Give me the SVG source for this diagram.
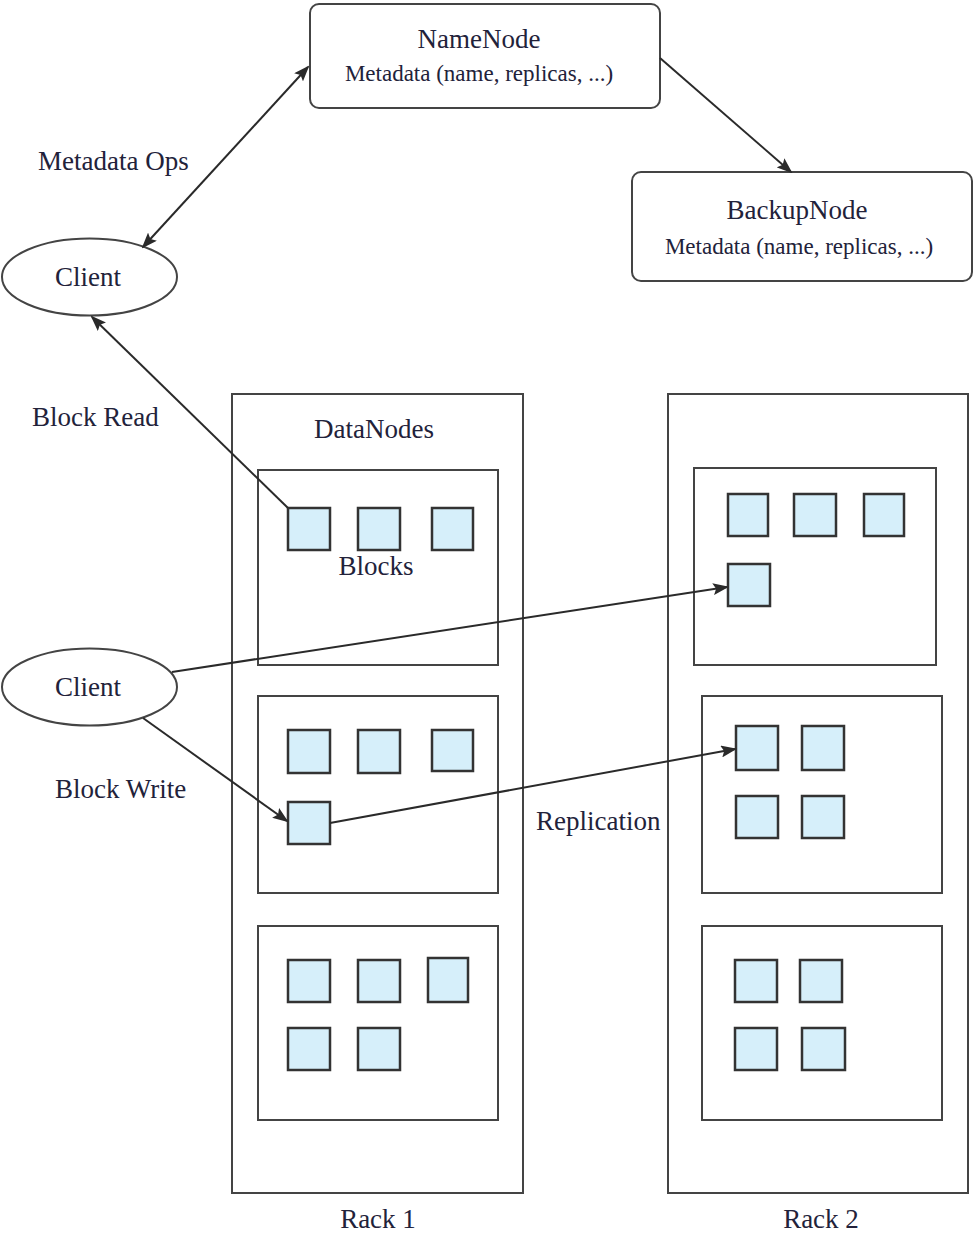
<svg xmlns="http://www.w3.org/2000/svg" width="974" height="1235" viewBox="0 0 974 1235">
<style>
text{font-family:"Liberation Serif","Times New Roman",serif;fill:#22223a}
.lbl{font-size:27px}
.meta{font-size:23px}
.box{fill:#fff;stroke:#444;stroke-width:2}
.rack{fill:none;stroke:#444;stroke-width:2}
.blk{fill:#d6effa;stroke:#333;stroke-width:2.5}
.conn{fill:none;stroke:#2a2a2a;stroke-width:2}
</style>
<defs>
<marker id="ah" markerUnits="userSpaceOnUse" markerWidth="16" markerHeight="12" refX="14" refY="6" orient="auto-start-reverse" viewBox="0 0 16 12">
<path d="M0,0 L16,6 L0,12 L3,6 Z" fill="#2a2a2a"/>
</marker>
</defs>
<rect width="974" height="1235" fill="#fff"/>

<g id="rack1">
<rect class="rack" x="232" y="394" width="291" height="799"/>
<text class="lbl" x="374" y="438" text-anchor="middle">DataNodes</text>
<text class="lbl" x="378" y="1228" text-anchor="middle">Rack 1</text>
</g>
<g id="rack2">
<rect class="rack" x="668" y="394" width="300" height="799"/>
<text class="lbl" x="821" y="1228" text-anchor="middle">Rack 2</text>
</g>

<g id="r1n1">
<rect class="box" x="258" y="470" width="240" height="195"/>
<rect class="blk" x="288" y="508" width="42" height="42"/>
<rect class="blk" x="358" y="508" width="42" height="42"/>
<rect class="blk" x="432" y="508" width="41" height="42"/>
<text class="lbl" x="376" y="575" text-anchor="middle">Blocks</text>
</g>
<g id="r1n2">
<rect class="box" x="258" y="696" width="240" height="197"/>
<rect class="blk" x="288" y="730" width="42" height="43"/>
<rect class="blk" x="358" y="730" width="42" height="43"/>
<rect class="blk" x="432" y="730" width="41" height="41"/>
<rect class="blk" x="288" y="802" width="42" height="42"/>
</g>
<g id="r1n3">
<rect class="box" x="258" y="926" width="240" height="194"/>
<rect class="blk" x="288" y="960" width="42" height="42"/>
<rect class="blk" x="358" y="960" width="42" height="42"/>
<rect class="blk" x="428" y="958" width="40" height="44"/>
<rect class="blk" x="288" y="1028" width="42" height="42"/>
<rect class="blk" x="358" y="1028" width="42" height="42"/>
</g>

<g id="r2n1">
<rect class="box" x="694" y="468" width="242" height="197"/>
<rect class="blk" x="728" y="494" width="40" height="42"/>
<rect class="blk" x="794" y="494" width="42" height="42"/>
<rect class="blk" x="864" y="494" width="40" height="42"/>
<rect class="blk" x="728" y="564" width="42" height="42"/>
</g>
<g id="r2n2">
<rect class="box" x="702" y="696" width="240" height="197"/>
<rect class="blk" x="736" y="726" width="42" height="44"/>
<rect class="blk" x="802" y="726" width="42" height="44"/>
<rect class="blk" x="736" y="796" width="42" height="42"/>
<rect class="blk" x="802" y="796" width="42" height="42"/>
</g>
<g id="r2n3">
<rect class="box" x="702" y="926" width="240" height="194"/>
<rect class="blk" x="735" y="960" width="42" height="42"/>
<rect class="blk" x="800" y="960" width="42" height="42"/>
<rect class="blk" x="735" y="1028" width="42" height="42"/>
<rect class="blk" x="802" y="1028" width="43" height="42"/>
</g>

<g id="namenode">
<rect class="box" x="310" y="4" width="350" height="104" rx="9"/>
<text class="lbl" x="479" y="48" text-anchor="middle">NameNode</text>
<text class="meta" x="479" y="81" text-anchor="middle">Metadata (name, replicas, ...)</text>
</g>
<g id="backupnode">
<rect class="box" x="632" y="172" width="340" height="109" rx="9"/>
<text class="lbl" x="797" y="219" text-anchor="middle">BackupNode</text>
<text class="meta" x="799" y="254" text-anchor="middle">Metadata (name, replicas, ...)</text>
</g>
<g id="client1">
<ellipse class="box" cx="89.5" cy="277" rx="87.5" ry="38.5"/>
<text class="lbl" x="88" y="286" text-anchor="middle">Client</text>
</g>
<g id="client2">
<ellipse class="box" cx="89.5" cy="687" rx="87.5" ry="38.5"/>
<text class="lbl" x="88" y="696" text-anchor="middle">Client</text>
</g>

<g id="labels">
<text class="lbl" x="38" y="170">Metadata Ops</text>
<text class="lbl" x="32" y="426">Block Read</text>
<text class="lbl" x="55" y="798">Block Write</text>
<text class="lbl" x="536" y="830">Replication</text>
</g>

<g id="connectors">
<line class="conn" x1="143" y1="247" x2="308" y2="67" marker-start="url(#ah)" marker-end="url(#ah)"/>
<line class="conn" x1="660" y1="58" x2="791" y2="172" marker-end="url(#ah)"/>
<line class="conn" x1="288" y1="508" x2="92" y2="317" marker-end="url(#ah)"/>
<line class="conn" x1="172" y1="672" x2="727" y2="587" marker-end="url(#ah)"/>
<line class="conn" x1="143" y1="718" x2="287" y2="821" marker-end="url(#ah)"/>
<line class="conn" x1="330" y1="823" x2="735" y2="749" marker-end="url(#ah)"/>
</g>
</svg>
